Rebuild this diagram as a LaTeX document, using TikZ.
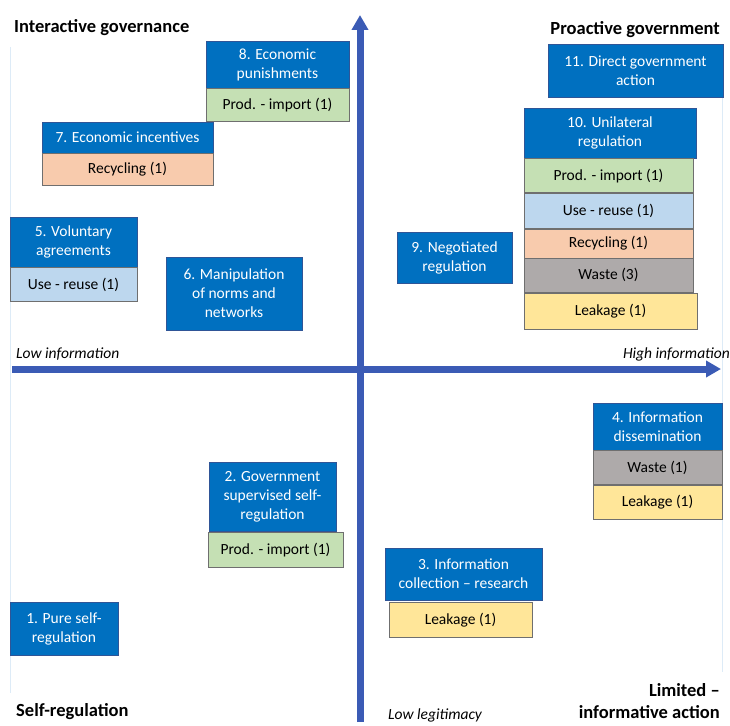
\documentclass[tikz,border=0pt]{standalone}
\usepackage{fontspec}
\setmainfont{Carlito}
\usepackage{tikz}
\usetikzlibrary{positioning,arrows.meta}
\usepackage{xcolor}

\definecolor{boxblue}{HTML}{0070C0}
\definecolor{boxedge}{HTML}{2F5597}
\definecolor{tagedge}{HTML}{6F6F6F}
\definecolor{prodgreen}{HTML}{C5E0B4}
\definecolor{reuseblue}{HTML}{BDD7EE}
\definecolor{recycorange}{HTML}{F8CBAD}
\definecolor{wastegray}{HTML}{AEAAAA}
\definecolor{leakyellow}{HTML}{FFE699}
\definecolor{axisblue}{HTML}{3B5BB5}
\definecolor{framefaint}{HTML}{DDEBF7}

\begin{document}
\begin{tikzpicture}[x=1pt, y=-1pt,
  measure/.style={draw=boxedge, fill=boxblue, text=white, align=center, inner sep=0pt, font=\fontsize{15.5}{19}\selectfont, line width=0.6pt},
  tag/.style={draw=tagedge, text=black, align=center, inner sep=0pt, font=\fontsize{15.5}{19}\selectfont, line width=0.6pt, minimum height=34pt},
  prod/.style={tag, fill=prodgreen},
  reuse/.style={tag, fill=reuseblue},
  recyc/.style={tag, fill=recycorange},
  waste/.style={tag, fill=wastegray},
  leak/.style={tag, fill=leakyellow},
  corner/.style={font=\fontsize{18.5}{22}\selectfont\bfseries, inner sep=0pt},
  axislabel/.style={font=\fontsize{15.5}{19}\selectfont\itshape, inner sep=0pt},
  axis/.style={-{Triangle[length=15pt, width=16pt]}, line width=7pt, axisblue},
  frame/.style={framefaint, line width=0.8pt},
]
  \useasboundingbox (0,0) rectangle (730,725);

  % faint plot frame
  \draw[frame] (10,47) -- (10,693);
  \draw[frame] (722,44) -- (722,672);

  % axes
  \coordinate (Vbot) at (360,722);
  \coordinate (Vtop) at (360,15);
  \coordinate (Hleft) at (12,369);
  \coordinate (Hright) at (721,369);
  \draw[axis] (Vbot) -- (Vtop);
  \draw[axis] (Hleft) -- (Hright);

  % quadrant and axis labels
  \node[corner, anchor=west] (IG) at (14,28) {Interactive governance};
  \node[corner, anchor=east] (PG) at (720,30) {Proactive government};
  \node[corner, anchor=west] (SR) at (16,712) {Self-regulation};
  \node[corner, anchor=east, align=right] (LA) at (720,701) {Limited –\\informative action};
  \node[axislabel, anchor=west] (LI) at (16,354) {Low information};
  \node[axislabel, anchor=east] (HI) at (730,354) {High information};
  \node[axislabel, anchor=west] (LL) at (388,715) {Low legitimacy};

  % upper left
  \node[measure, minimum width=143pt, minimum height=47pt] (M8) at (277.5,64.5) {8. Economic\\punishments};
  \node[prod, minimum width=143pt, minimum height=33pt, below=0pt of M8] (M8a) {Prod. - import (1)};
  \node[measure, minimum width=171pt, minimum height=31pt] (M7) at (127.5,137.5) {7. Economic incentives};
  \node[recyc, minimum width=171pt, minimum height=32pt, below=0pt of M7] (M7a) {Recycling (1)};
  \node[measure, minimum width=127pt, minimum height=50pt] (M5) at (73.5,242) {5. Voluntary\\agreements};
  \node[reuse, minimum width=127pt, below=0pt of M5] (M5a) {Use - reuse (1)};
  \node[measure, minimum width=136pt, minimum height=73pt] (M6) at (234,293.5) {6. Manipulation\\of norms and\\networks};

  % upper right
  \node[measure, minimum width=175pt, minimum height=53pt] (M11) at (635.5,70.5) {11. Direct government\\action};
  \node[measure, minimum width=172pt, minimum height=50pt] (M10) at (610,133) {10. Unilateral\\regulation};
  \node[prod, minimum width=169pt, below=0pt of M10, xshift=-1.5pt] (M10a) {Prod. - import (1)};
  \node[reuse, minimum width=169pt, minimum height=35pt, below=0pt of M10a] (M10b) {Use - reuse (1)};
  \node[recyc, minimum width=169pt, minimum height=29pt, below=0pt of M10b] (M10c) {Recycling (1)};
  \node[waste, minimum width=169pt, below=0pt of M10c] (M10d) {Waste (3)};
  \node[leak, minimum width=173pt, minimum height=36pt, below=0pt of M10d, xshift=2pt] (M10e) {Leakage (1)};
  \node[measure, minimum width=115pt, minimum height=51pt] (M9) at (454.5,257.5) {9. Negotiated\\regulation};

  % lower left
  \node[measure, minimum width=127pt, minimum height=69pt] (M2) at (272.5,496.5) {2. Government\\supervised self-\\regulation};
  \node[prod, minimum width=135pt, minimum height=35pt, below=1pt of M2, xshift=3pt] (M2a) {Prod. - import (1)};
  \node[measure, minimum width=108pt, minimum height=53pt] (M1) at (64,628.5) {1. Pure self-\\regulation};

  % lower right
  \node[measure, minimum width=129pt, minimum height=47pt] (M4) at (657.5,426.5) {4. Information\\dissemination};
  \node[waste, minimum width=129pt, below=0pt of M4] (M4a) {Waste (1)};
  \node[leak, minimum width=129pt, below=0pt of M4a] (M4b) {Leakage (1)};
  \node[measure, minimum width=157pt, minimum height=52pt] (M3) at (463.5,574) {3. Information\\collection – research};
  \node[leak, minimum width=143pt, minimum height=35pt, below=2pt of M3, xshift=-3pt] (M3a) {Leakage (1)};
\end{tikzpicture}
\end{document}
